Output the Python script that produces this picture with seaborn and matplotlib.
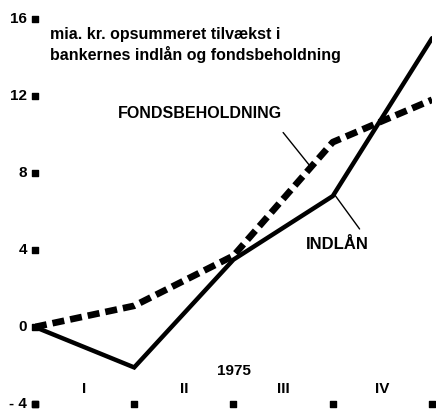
import matplotlib
matplotlib.use('Agg')
import matplotlib.pyplot as plt
import numpy as np
import pandas as pd
import seaborn as sns

# quarterly cumulative growth, bn kr
quarter_pos = [0, 1, 2, 3, 4]
indlaan = [0.0, -2.1, 3.5, 6.8, 15.0]
fonds = [0.0, 1.1, 3.7, 9.6, 11.8]
y_ticks = [-4, 0, 4, 8, 12, 16]
quarters = ['I', 'II', 'III', 'IV']

df = pd.DataFrame({'q': quarter_pos * 2,
                   'val': indlaan + fonds,
                   'serie': ['INDLÅN'] * 5 + ['FONDSBEHOLDNING'] * 5})

sns.set_style('white')
plt.rcParams['font.family'] = ['Liberation Sans', 'DejaVu Sans']
plt.rcParams['font.weight'] = 'bold'
plt.rcParams['text.color'] = 'black'

fig = plt.figure(figsize=(4.36, 4.11), dpi=100)
ax = fig.add_axes([0.080, 0.017, 0.911, 0.937])

sns.lineplot(data=df[df.serie == 'INDLÅN'], x='q', y='val', color='black',
             lw=3.2, ax=ax, solid_joinstyle='miter')
sns.lineplot(data=df[df.serie == 'FONDSBEHOLDNING'], x='q', y='val', color='black',
             lw=4.8, ax=ax)
ax.lines[-1].set_dashes([1.8, 0.9])

ax.set_xlim(0, 4)
ax.set_ylim(-4, 16)
for s in ax.spines.values():
    s.set_visible(False)
ax.set_xticks([])
ax.set_yticks([])
ax.set_xlabel('')
ax.set_ylabel('')

# dot tick marks
ax.scatter([0] * len(y_ticks), y_ticks, s=16, color='black', marker='s', clip_on=False, zorder=5)
ax.scatter(quarter_pos, [-4] * len(quarter_pos), s=16, color='black', marker='s', clip_on=False, zorder=5)
for t in y_ticks:
    lab = str(t) if t >= 0 else '- 4'
    ax.text(-0.08, t, lab, ha='right', va='center', fontsize=11, fontweight='bold', clip_on=False)

for i, q in enumerate(quarters):
    ax.text(i + 0.5, -3.2, q, ha='center', va='center', fontsize=11, fontweight='bold')
ax.text(2, -2.3, '1975', ha='center', va='center', fontsize=11, fontweight='bold')

ax.text(0.15, 14.65, 'mia. kr. opsummeret tilvækst i\nbankernes indlån og fondsbeholdning',
        ha='left', va='center', fontsize=11.5, fontweight='bold', linespacing=1.3)

ax.text(1.66, 11.07, 'FONDSBEHOLDNING', ha='center', va='center', fontsize=11.5, fontweight='bold')
ax.plot([2.5, 2.78], [10.1, 8.3], color='black', lw=1)
ax.text(3.05, 4.26, 'INDLÅN', ha='center', va='center', fontsize=12, fontweight='bold')
ax.plot([3.02, 3.27], [6.86, 5.09], color='black', lw=1)

fig.savefig('out.png', dpi=100)
